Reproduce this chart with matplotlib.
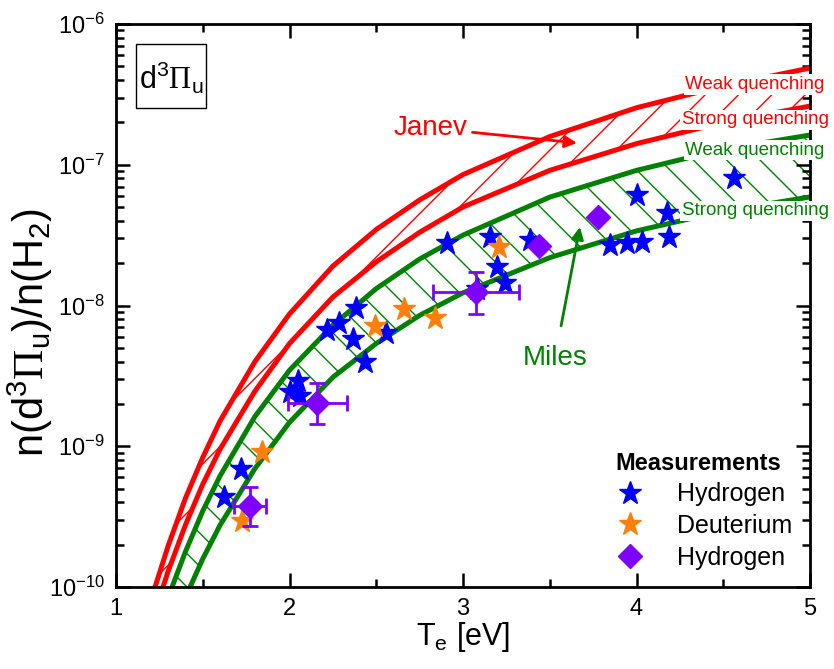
import matplotlib
matplotlib.use("Agg")
import matplotlib.pyplot as plt
from matplotlib.lines import Line2D
from matplotlib.patches import Rectangle
from matplotlib.ticker import FixedLocator, NullFormatter, MultipleLocator
import numpy as np

plt.rcParams['font.family'] = ['Liberation Sans', 'DejaVu Sans']
plt.rcParams['mathtext.fontset'] = 'custom'
plt.rcParams['mathtext.rm'] = 'Liberation Sans'
plt.rcParams['mathtext.it'] = 'Liberation Sans:italic'
plt.rcParams['mathtext.bf'] = 'Liberation Sans:bold'
plt.rcParams['mathtext.sf'] = 'Liberation Serif'
plt.rcParams['hatch.linewidth'] = 1.0

# --- Model curves: log10 of the population ratio vs electron temperature ---
te_janev_weak = [1.225, 1.3, 1.4, 1.5, 1.6, 1.8, 2.0, 2.25, 2.5, 2.75, 3.0, 3.5, 4.0, 4.5, 5.0]
log_janev_weak = [-10.0, -9.71, -9.37, -9.08, -8.82, -8.40, -8.06, -7.72, -7.46, -7.25,
                  -7.07, -6.80, -6.595, -6.44, -6.313]

te_janev_strong = [1.271, 1.3, 1.4, 1.5, 1.6, 1.8, 2.0, 2.25, 2.5, 2.75, 3.0, 3.5, 4.0, 4.5, 5.0]
log_janev_strong = [-10.0, -9.89, -9.56, -9.27, -9.02, -8.61, -8.27, -7.94, -7.69, -7.48,
                    -7.30, -7.04, -6.85, -6.70, -6.583]

te_miles_weak = [1.323, 1.4, 1.5, 1.6, 1.8, 2.0, 2.25, 2.5, 2.75, 3.0, 3.5, 4.0, 4.5, 5.0]
log_miles_weak = [-10.0, -9.75, -9.46, -9.21, -8.79, -8.46, -8.14, -7.88, -7.67, -7.50,
                  -7.23, -7.04, -6.89, -6.789]

te_miles_strong = [1.427, 1.5, 1.6, 1.8, 2.0, 2.25, 2.5, 2.75, 3.0, 3.5, 4.0, 4.5, 5.0]
log_miles_strong = [-10.0, -9.80, -9.56, -9.16, -8.83, -8.51, -8.27, -8.07, -7.91, -7.66,
                    -7.47, -7.33, -7.229]

# --- Measurements ---
te_h = [1.622, 1.720, 2.003, 2.049, 2.061, 2.216, 2.285, 2.366, 2.383, 2.435,
        2.556, 2.908, 3.156, 3.196, 3.242, 3.081, 3.386, 3.847, 3.945, 4.032,
        4.003, 4.176, 4.187, 4.562]
ratio_h = [4.36e-10, 6.9e-10, 2.43e-9, 2.91e-9, 2.28e-9, 6.7e-9, 7.5e-9, 5.8e-9,
           9.6e-9, 3.97e-9, 6.4e-9, 2.78e-8, 3.07e-8, 1.88e-8, 1.44e-8, 1.31e-8,
           2.92e-8, 2.69e-8, 2.78e-8, 2.83e-8, 6.1e-8, 4.54e-8, 3.07e-8, 8.05e-8]

te_d = [1.726, 1.841, 2.493, 2.660, 2.839, 3.207]
ratio_d = [2.94e-10, 9.1e-10, 7.15e-9, 9.45e-9, 8.15e-9, 2.6e-8]

te_h2 = [1.772, 2.159, 3.075, 3.438, 3.778]
ratio_h2 = [3.76e-10, 2.03e-9, 1.25e-8, 2.65e-8, 4.26e-8]

# error bars (first three points of the second hydrogen set)
te_h2_err = [0.09, 0.17, 0.25]
ratio_h2_lo = [2.72e-10, 1.44e-9, 8.7e-9]
ratio_h2_hi = [5.1e-10, 2.81e-9, 1.73e-8]

# axis ticks
decades = [-10, -9, -8, -7, -6]

RED = '#ff0000'
GREEN = '#008000'
BLUE = '#0000ff'
ORANGE = '#ff7f0e'
PURPLE = '#7f00ff'

fig = plt.figure(figsize=(8.34, 6.69), dpi=100)
ax = fig.add_axes([116/834, 1 - 587/669, 694/834, 563/669])
ax.set_yscale('log')
ax.set_xlim(1, 5)
ax.set_ylim(1e-10, 1e-6)


def pw(vals):
    return [10.0 ** v for v in vals]


# hatched bands between the weak- and strong-quenching limits
def band(te_a, la, te_b, lb, color, hatch):
    xs = list(te_a) + list(te_b[::-1])
    ys = pw(la) + pw(lb[::-1])
    ax.fill(xs, ys, facecolor='none', edgecolor=color, hatch=hatch,
            linewidth=0, zorder=1)


band(te_janev_weak, log_janev_weak, te_janev_strong, log_janev_strong, RED, '/')
band(te_miles_weak, log_miles_weak, te_miles_strong, log_miles_strong, GREEN, '\\')

for te, lg, c in [(te_janev_weak, log_janev_weak, RED),
                  (te_janev_strong, log_janev_strong, RED),
                  (te_miles_weak, log_miles_weak, GREEN),
                  (te_miles_strong, log_miles_strong, GREEN)]:
    ax.plot(te, pw(lg), color=c, lw=3.6, solid_capstyle='butt',
            solid_joinstyle='round', zorder=2)

ax.plot(te_h, ratio_h, ls='none', marker='*', ms=17, color=BLUE, zorder=4)
ax.plot(te_d, ratio_d, ls='none', marker='*', ms=17, color=ORANGE, zorder=4)
yv = np.array(ratio_h2[:3])
ax.errorbar(te_h2[:3], yv, xerr=te_h2_err,
            yerr=[yv - np.array(ratio_h2_lo), np.array(ratio_h2_hi) - yv],
            fmt='none', ecolor=PURPLE, elinewidth=2, capsize=6, capthick=2,
            zorder=5)
ax.plot(te_h2, ratio_h2, ls='none', marker='D', ms=12, color=PURPLE, zorder=6)

# axes styling
for s in ax.spines.values():
    s.set_linewidth(2)
    s.set_zorder(3)
ax.xaxis.set_major_locator(MultipleLocator(1))
ax.xaxis.set_minor_locator(MultipleLocator(0.5))
ax.yaxis.set_major_locator(FixedLocator([10.0 ** d for d in decades]))
ax.yaxis.set_minor_locator(FixedLocator([m * 10.0 ** d for d in decades[:-1]
                                         for m in range(2, 10)]))
ax.yaxis.set_minor_formatter(NullFormatter())
ax.tick_params(which='both', direction='in', top=True, right=True, width=1.8)
ax.tick_params(which='major', length=10, labelsize=17, pad=8)
ax.tick_params(which='minor', length=6)

ax.set_xlabel(r'T$_\mathregular{e}$ [eV]', fontsize=22, labelpad=0)
ax.set_ylabel(r'n(d$^\mathregular{3}\mathsf{\Pi}_\mathregular{u}$)/n(H$_\mathregular{2}$)',
              fontsize=30)
ax.yaxis.set_label_coords(-0.088, 0.453)

# state label in a framed box
ax.add_patch(Rectangle((0.0288, 0.851), 0.1009, 0.1137, transform=ax.transAxes,
                       facecolor='white', edgecolor='black', linewidth=1,
                       zorder=6))
ax.text(0.080, 0.905, r'd$^\mathregular{3}\mathsf{\Pi}_\mathregular{u}$',
        transform=ax.transAxes, fontsize=22, ha='center', va='center', zorder=7)

# curve labels at the right edge
for ytxt, txt, c in [(0.893, 'Weak quenching', RED),
                     (0.8295, 'Strong quenching', RED),
                     (0.776, 'Weak quenching', GREEN),
                     (0.668, 'Strong quenching', GREEN)]:
    ax.text(0.921, ytxt, txt, transform=ax.transAxes, color=c, fontsize=13.5,
            ha='center', va='center', clip_on=False, zorder=10,
            bbox=dict(boxstyle='square,pad=0.1', facecolor='white',
                      edgecolor='none'))

# model annotations
ax.annotate('Janev', xy=(3.657, 10 ** -6.845), xytext=(2.81, 10 ** -6.739),
            color=RED, fontsize=20, ha='center', va='center',
            arrowprops=dict(arrowstyle='-|>', color=RED, lw=2,
                            mutation_scale=18, shrinkA=2, shrinkB=0))
ax.annotate('Miles', xy=(3.674, 10 ** -7.442), xytext=(3.53, 10 ** -8.373),
            color=GREEN, fontsize=20, ha='center', va='center',
            arrowprops=dict(arrowstyle='-|>', color=GREEN, lw=2,
                            mutation_scale=18, shrinkA=12, shrinkB=0))

handles = [Line2D([], [], ls='none', marker='*', ms=17, color=BLUE),
           Line2D([], [], ls='none', marker='*', ms=17, color=ORANGE),
           Line2D([], [], ls='none', marker='D', ms=12, color=PURPLE)]
leg = ax.legend(handles, ['Hydrogen', 'Deuterium', 'Hydrogen'],
                title='Measurements', loc='lower right',
                bbox_to_anchor=(1.0, 0.0), frameon=False, fontsize=18,
                title_fontproperties={'weight': 'bold', 'size': 17},
                handletextpad=0.9, labelspacing=0.3, borderaxespad=0.3)

fig.savefig('out.png', dpi=100)
